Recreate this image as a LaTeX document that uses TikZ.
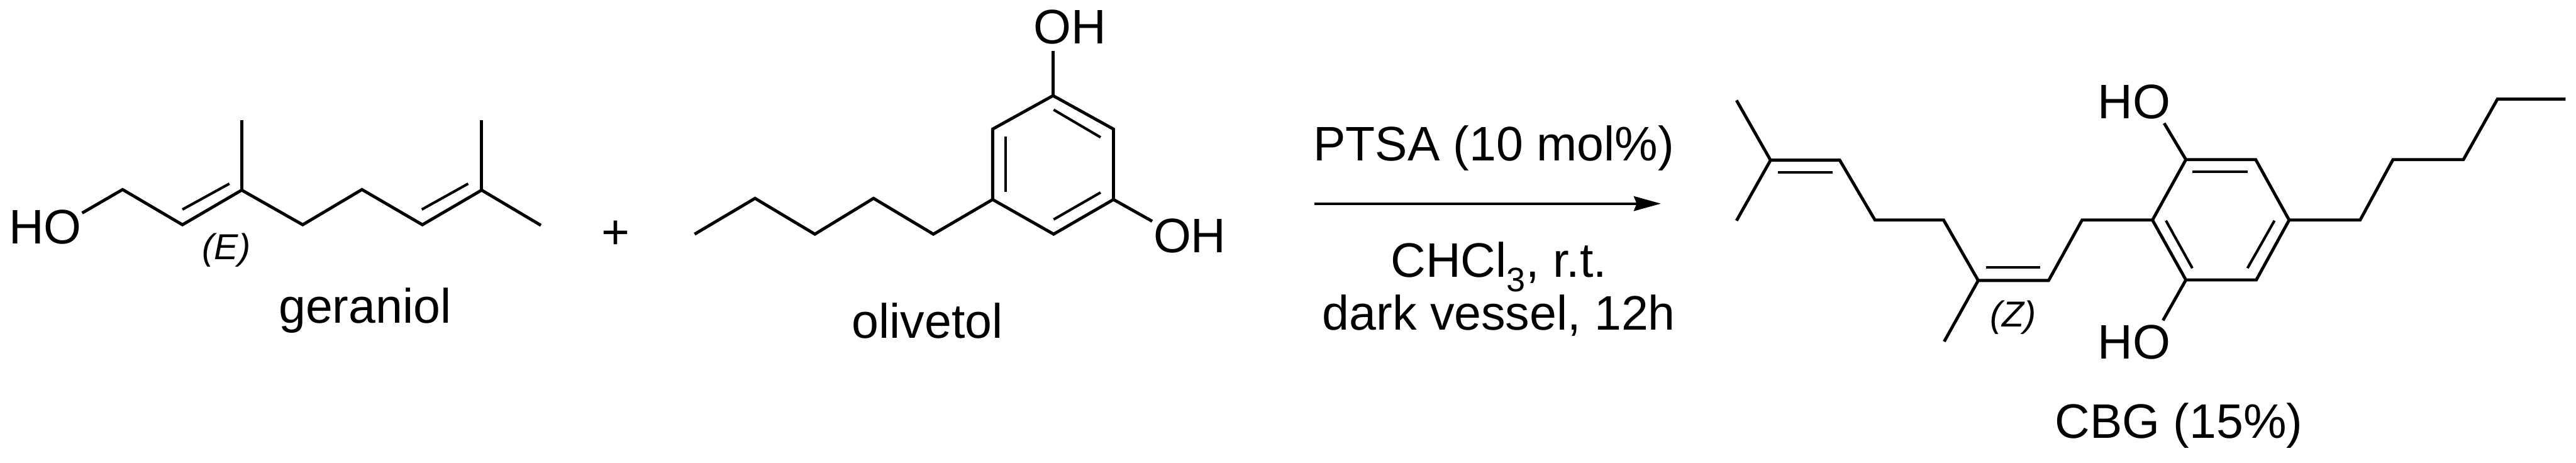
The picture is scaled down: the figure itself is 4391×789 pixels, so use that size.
\documentclass[tikz,border=0pt]{standalone}
\usepackage{fontspec}
\setmainfont{Liberation Sans}
\usetikzlibrary{arrows.meta}
\tikzset{
  bond/.style={line width=5.2*0.02cm, line join=miter, line cap=butt},
  inner bond/.style={line width=4.4*0.02cm, line cap=butt},
  big/.style={inner sep=0pt, anchor=base, font=\fontsize{47}{51.2}\selectfont},
  small/.style={inner sep=0pt, anchor=base, font=\fontsize{35}{42}\selectfont\itshape},
  rxn/.style={line width=4.4*0.02cm, -{Stealth[length=46*0.02cm, width=25*0.02cm, inset=5*0.02cm]}}
}
\begin{document}
\begin{tikzpicture}[x=0.02cm,y=-0.02cm]
\useasboundingbox (0,0) rectangle (4391,789);
% --- geraniol
\node[big] (hoA) at (77,415) {HO};
\coordinate (g0) at (140,363);
\coordinate (g1) at (209,323);
\coordinate (g2) at (311,383);
\coordinate (g3) at (412,324);
\coordinate (g3m) at (412,205);
\coordinate (g4) at (516,383);
\coordinate (g5) at (617,323);
\coordinate (g6) at (720,383);
\coordinate (g7) at (821,324);
\coordinate (g7m) at (821,205);
\coordinate (g8) at (922,384);
\coordinate (gi1) at (311,357);
\coordinate (gi2) at (391,313);
\coordinate (gi3) at (719,357);
\coordinate (gi4) at (798,313);
\draw[bond] (g0) -- (g1) -- (g2) -- (g3) -- (g4) -- (g5) -- (g6) -- (g7) -- (g8);
\draw[bond] (g3) -- (g3m);
\draw[bond] (g7) -- (g7m);
\draw[inner bond] (gi1) -- (gi2);
\draw[inner bond] (gi3) -- (gi4);
\node[small] (E) at (386,442) {(E)};
\node[big] (geraniol) at (622,550) {geraniol};
\node[big] (plus) at (1049,424) {+};
% --- olivetol
\node[big] (ohB) at (1824,75) {OH};
\coordinate (o0) at (1795,87);
\coordinate (r1) at (1795,163);
\coordinate (r2) at (1898,220);
\coordinate (r3) at (1898,340);
\coordinate (r4) at (1796,399);
\coordinate (r5) at (1692,340);
\coordinate (r6) at (1692,220);
\coordinate (ri1) at (1796,187);
\coordinate (ri2) at (1876,234);
\coordinate (ri3) at (1714,233);
\coordinate (ri4) at (1714,327);
\coordinate (ri5) at (1796,374);
\coordinate (ri6) at (1876,328);
\coordinate (o1) at (1964,377);
\coordinate (c1) at (1591,399);
\coordinate (c2) at (1489,338);
\coordinate (c3) at (1389,399);
\coordinate (c4) at (1287,338);
\coordinate (c5) at (1184,399);
\draw[bond] (r1) -- (r2) -- (r3) -- (r4) -- (r5) -- (r6) -- cycle;
\draw[bond] (o0) -- (r1);
\draw[bond] (r3) -- (o1);
\draw[bond] (r5) -- (c1) -- (c2) -- (c3) -- (c4) -- (c5);
\draw[inner bond] (ri1) -- (ri2);
\draw[inner bond] (ri3) -- (ri4);
\draw[inner bond] (ri5) -- (ri6);
\node[big] (ohC) at (2028,430) {OH};
\node[big] (olivetol) at (1581,576) {olivetol};
% --- reaction arrow
\node[big] (ptsa) at (2546,274) {PTSA (10 mol\%)};
\coordinate (a0) at (2241,347);
\coordinate (a1) at (2831,347);
\draw[rxn] (a0) -- (a1);
\node[big, align=center] (cond) at (2555,562) {CHCl\textsubscript{3}, r.t.\\dark vessel, 12h};
% --- CBG
\coordinate (p1) at (2960,171);
\coordinate (p2) at (3018,273);
\coordinate (p3) at (2960,376);
\coordinate (p4) at (3136,273);
\coordinate (p5) at (3196,375);
\coordinate (p6) at (3313,375);
\coordinate (p7) at (3372,478);
\coordinate (p8) at (3314,582);
\coordinate (p9) at (3492,478);
\coordinate (p10) at (3549,375);
\coordinate (pi1) at (3031,294);
\coordinate (pi2) at (3124,294);
\coordinate (pi3) at (3385,456);
\coordinate (pi4) at (3478,456);
\coordinate (s1) at (3726,272);
\coordinate (s2) at (3845,272);
\coordinate (s3) at (3902,375);
\coordinate (s4) at (3846,477);
\coordinate (s5) at (3726,477);
\coordinate (s6) at (3669,375);
\coordinate (si1) at (3737,293);
\coordinate (si2) at (3831,293);
\coordinate (si3) at (3692,376);
\coordinate (si4) at (3737,457);
\coordinate (si5) at (3877,376);
\coordinate (si6) at (3831,457);
\coordinate (h1) at (3689,210);
\coordinate (h2) at (3687,546);
\coordinate (t1) at (4023,375);
\coordinate (t2) at (4079,272);
\coordinate (t3) at (4199,272);
\coordinate (t4) at (4257,169);
\coordinate (t5) at (4373,169);
\draw[bond] (p1) -- (p2) -- (p3);
\draw[bond] (p2) -- (p4) -- (p5) -- (p6) -- (p7) -- (p8);
\draw[bond] (p7) -- (p9) -- (p10) -- (s6);
\draw[inner bond] (pi1) -- (pi2);
\draw[inner bond] (pi3) -- (pi4);
\draw[bond] (s1) -- (s2) -- (s3) -- (s4) -- (s5) -- (s6) -- cycle;
\draw[inner bond] (si1) -- (si2);
\draw[inner bond] (si3) -- (si4);
\draw[inner bond] (si5) -- (si6);
\draw[bond] (h1) -- (s1);
\draw[bond] (h2) -- (s5);
\draw[bond] (s3) -- (t1) -- (t2) -- (t3) -- (t4) -- (t5);
\node[big] (hoD) at (3638,202) {HO};
\node[big] (hoE) at (3638,612) {HO};
\node[small] (Z) at (3432,557) {(Z)};
\node[big] (cbg) at (3714,747) {CBG (15\%)};
\end{tikzpicture}
\end{document}
